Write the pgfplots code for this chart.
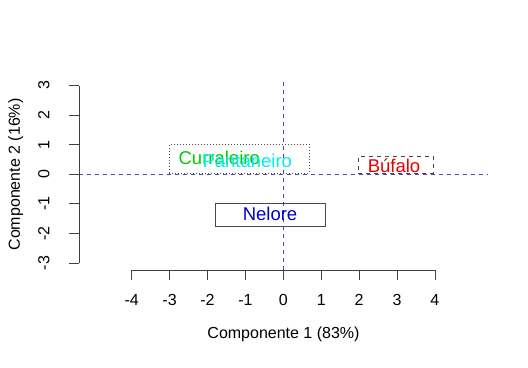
\documentclass[border=0pt]{standalone}
\usepackage{pgfplots}
\pgfplotsset{compat=1.18}
\usepackage{fontspec}
\setmainfont{Liberation Sans}
\usetikzlibrary{calc}
\definecolor{rgreen}{HTML}{00CD00}
\definecolor{rred}{HTML}{E80000}
\definecolor{rblue}{HTML}{0000D0}
\definecolor{rcyan}{HTML}{00EEEE}
\definecolor{refline}{HTML}{4848A8}
\definecolor{boxgray}{HTML}{484848}
\begin{document}
\begin{tikzpicture}
\path[use as bounding box] (-79bp,-98bp) rectangle (449bp,270bp);
\begin{axis}[
  at={(0,0)}, anchor=south west,
  scale only axis, width=409bp, height=191bp,
  xmin=-5.39, xmax=5.40, ymin=-3.24, ymax=3.22,
  hide axis, clip=false,
]
% reference lines
\addplot[refline, line width=0.7bp, dash pattern=on 4bp off 4bp] coordinates {(-5.39,0) (5.40,0)};
\addplot[refline, line width=0.7bp, dash pattern=on 4bp off 4bp] coordinates {(0,-3.24) (0,3.22)};
% boxes
\addplot[boxgray, line width=0.8bp, dash pattern=on 1bp off 2bp] coordinates {(-3.01,0.03) (0.68,0.03) (0.68,1.01) (-3.01,1.01) (-3.01,0.03)};
\addplot[boxgray, line width=0.8bp, dash pattern=on 4bp off 4bp] coordinates {(1.98,0.03) (3.96,0.03) (3.96,0.59) (1.98,0.59) (1.98,0.03)};
\addplot[boxgray, line width=0.8bp] coordinates {(-1.78,-0.99) (1.10,-0.99) (1.10,-1.78) (-1.78,-1.78) (-1.78,-0.99)};
% labels
\node[anchor=base, inner sep=0pt, text=rgreen, font=\fontsize{18.5bp}{22bp}\selectfont] at (axis cs:-1.69,0.33) {Curraleiro};
\node[anchor=base, inner sep=0pt, text=rcyan, font=\fontsize{18.5bp}{22bp}\selectfont] at (axis cs:-0.95,0.22) {Pantaneiro};
\node[anchor=base, inner sep=0pt, text=rred, font=\fontsize{18.5bp}{22bp}\selectfont] at (axis cs:2.92,0.07) {Búfalo};
\node[anchor=base, inner sep=0pt, text=rblue, font=\fontsize{18.5bp}{22bp}\selectfont] at (axis cs:-0.35,-1.58) {Nelore};
% x axis
\draw[black!75, line width=0.75bp] (axis cs:-4,-3.24) -- (axis cs:4,-3.24);
\pgfplotsinvokeforeach{-4,-3,-2,-1,0,1,2,3,4}{
  \draw[black!75, line width=0.75bp] (axis cs:#1,-3.24) -- ++(0pt,-9.6bp);
  \node[anchor=base, inner sep=0pt, font=\fontsize{16bp}{19bp}\selectfont] at ($(axis cs:#1,-3.24)+(0pt,-35bp)$) {#1};
}
% y axis
\draw[black!75, line width=0.75bp] (axis cs:-5.39,-3) -- (axis cs:-5.39,3);
\pgfplotsinvokeforeach{-3,-2,-1,0,1,2,3}{
  \draw[black!75, line width=0.75bp] (axis cs:-5.39,#1) -- ++(-9.6bp,0pt);
  \node[anchor=base, rotate=90, inner sep=0pt, font=\fontsize{16bp}{19bp}\selectfont] at ($(axis cs:-5.39,#1)+(-29.5bp,0pt)$) {#1};
}
% axis titles
\node[anchor=base, inner sep=0pt, font=\fontsize{16bp}{19bp}\selectfont] at ($(axis cs:0.005,-3.24)+(0pt,-68bp)$) {Componente 1 (83\%)};
\node[anchor=base, rotate=90, inner sep=0pt, font=\fontsize{16bp}{19bp}\selectfont] at ($(axis cs:-5.39,-0.01)+(-59bp,0pt)$) {Componente 2 (16\%)};
\end{axis}
\end{tikzpicture}
\end{document}
